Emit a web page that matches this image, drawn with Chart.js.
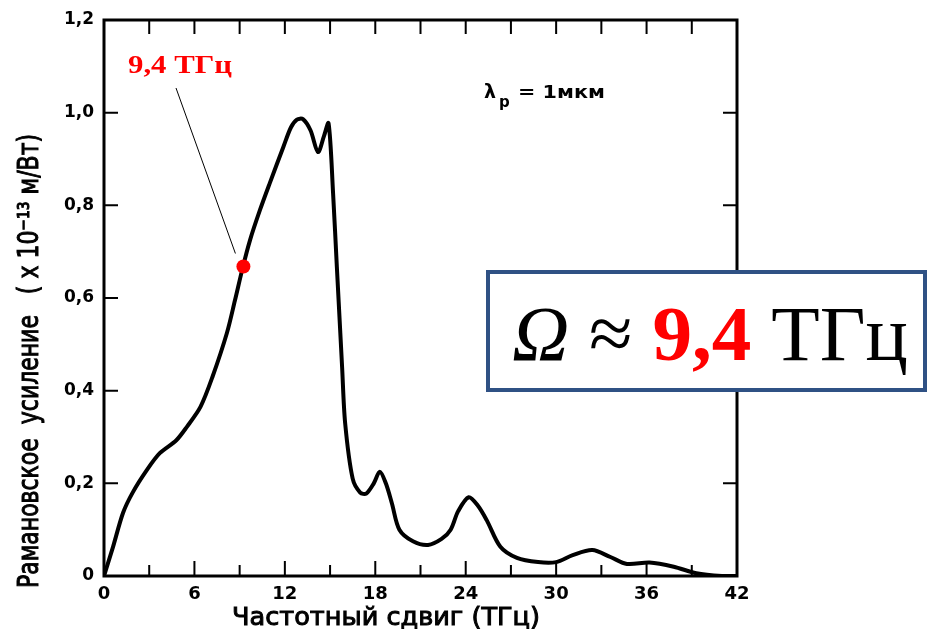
<!DOCTYPE html>
<html>
<head>
<meta charset="utf-8">
<script src="https://cdn.jsdelivr.net/npm/chart.js@4/dist/chart.umd.min.js"></script>
<style>
html, body { margin: 0; padding: 0; background: #fff; }
</style>
</head>
<body>
<canvas id="grafica" width="929" height="633"></canvas>
<script>
// частотный сдвиг, ТГц
var sdvig = [0, 0.6, 1.26, 1.9, 2.85, 3.7, 4.8, 5.5, 6.4, 7.2, 8.16, 8.69, 9.2, 9.69, 10.35, 11.0,
	11.9, 12.4, 12.8, 13.2, 13.7, 14.2, 14.6, 14.9, 15.2, 15.45, 15.8, 16.0, 16.5, 17.0, 17.4, 17.9,
	18.3, 18.7, 19.1, 19.6, 20.5, 21.5, 22.4, 23.0, 23.5, 24.2, 24.8, 25.4, 26.3, 27.4, 28.8,
	30.0, 31.1, 32.4, 33.6, 34.7, 36.2, 37.8, 39.3, 41, 42];
// рамановское усиление, x 10^-13 м/Вт
var usilenie = [0, 0.063, 0.136, 0.18, 0.229, 0.265, 0.293, 0.322, 0.365, 0.43, 0.525, 0.595, 0.665, 0.725, 0.79, 0.848,
	0.926, 0.968, 0.985, 0.986, 0.962, 0.915, 0.95, 0.977, 0.826, 0.667, 0.45, 0.33, 0.21, 0.18, 0.178, 0.2,
	0.225, 0.2, 0.157, 0.10, 0.075, 0.067, 0.08, 0.10, 0.14, 0.17, 0.152, 0.12, 0.063, 0.039, 0.03,
	0.03, 0.045, 0.056, 0.041, 0.026, 0.029, 0.02, 0.006, 0, 0];
// отмеченная точка
var puntoX = [9.25];
var puntoY = [0.668];

var xTickLabels = ['0', '6', '12', '18', '24', '30', '36', '42'];
var yTickLabels = ['0', '0,2', '0,4', '0,6', '0,8', '1,0', '1,2'];
var tituloX = 'Частотный сдвиг (ТГц)';
var tituloY = 'Рамановское  усиление   ( x 10⁻¹³ м/Вт)';
var etiqueta = '9,4 ТГц';

function fitText(ctx, text, x, y, w, grueso) {
	var m = ctx.measureText(text).width;
	ctx.save();
	ctx.translate(x, y);
	ctx.scale(w / m, 1);
	ctx.fillText(text, 0, 0);
	if (grueso) {
		ctx.lineWidth = grueso;
		ctx.strokeStyle = ctx.fillStyle;
		ctx.strokeText(text, 0, 0);
	}
	ctx.restore();
}

var marco = {
	id: 'marco',
	afterDatasetsDraw: function(chart) {
		var ctx = chart.ctx, a = chart.chartArea;
		var sx = chart.scales.x, sy = chart.scales.y;
		ctx.save();
		ctx.strokeStyle = '#000';
		ctx.lineWidth = 3;
		ctx.strokeRect(a.left, a.top, a.right - a.left, a.bottom - a.top);

		// ticks hacia adentro
		ctx.lineWidth = 2;
		ctx.beginPath();
		for (var v = 3; v < 42; v += 3) {
			var px = sx.getPixelForValue(v);
			var len = (v % 6 == 0) ? 15 : 11;
			ctx.moveTo(px, a.bottom); ctx.lineTo(px, a.bottom - len);
			ctx.moveTo(px, a.top); ctx.lineTo(px, a.top + 14);
		}
		for (var i = 1; i < yTickLabels.length - 1; i++) {
			var py = sy.getPixelForValue(i * 0.2);
			ctx.moveTo(a.left, py); ctx.lineTo(a.left + 14, py);
			ctx.moveTo(a.right, py); ctx.lineTo(a.right - 14, py);
		}
		ctx.stroke();

		// titulos
		ctx.fillStyle = '#000';
		ctx.font = '25px "DejaVu Sans"';
		ctx.textBaseline = 'alphabetic';
		ctx.textAlign = 'left';
		fitText(ctx, tituloX, 232, 625, 308, 1);

		ctx.save();
		ctx.translate(38, 588);
		ctx.rotate(-Math.PI / 2);
		ctx.font = '28px "DejaVu Sans"';
		fitText(ctx, tituloY, 0, 0, 454, 1);
		ctx.restore();

		// lambda_p
		ctx.font = 'bold 19px "DejaVu Sans"';
		ctx.fillText('λ', 484, 98);
		ctx.font = 'bold 15px "DejaVu Sans"';
		ctx.fillText('p', 499, 107);
		ctx.font = 'bold 17px "DejaVu Sans"';
		fitText(ctx, '= 1мкм', 518, 98, 87);

		// etiqueta roja y linea
		var dx = sx.getPixelForValue(puntoX[0]), dy = sy.getPixelForValue(puntoY[0]);
		ctx.strokeStyle = '#000';
		ctx.lineWidth = 1;
		ctx.beginPath();
		ctx.moveTo(176, 88);
		ctx.lineTo(dx - 8, dy - 13);
		ctx.stroke();
		ctx.fillStyle = '#ff0000';
		ctx.font = 'bold 25px "Liberation Serif"';
		fitText(ctx, etiqueta, 128, 73, 104);

		// recuadro
		ctx.fillStyle = '#fff';
		ctx.fillRect(488, 272, 437, 118);
		ctx.strokeStyle = '#2f5184';
		ctx.lineWidth = 4;
		ctx.strokeRect(488, 272, 437, 118);

		var partes = [
			['Ω', 'italic ', '#000'],
			[' ≈ ', '', '#000'],
			['9,4', 'bold ', '#ff0000'],
			[' ТГц', '', '#000']
		];
		var total = 0;
		partes.forEach(function(p) {
			ctx.font = p[1] + '100px "Liberation Serif"';
			total += ctx.measureText(p[0]).width;
		});
		var size = 100 * 396 / total;
		var x = 512;
		partes.forEach(function(p) {
			ctx.font = p[1] + size + 'px "Liberation Serif"';
			ctx.fillStyle = p[2];
			ctx.fillText(p[0], x, 360);
			x += ctx.measureText(p[0]).width;
		});
		ctx.restore();
	}
};

let ctx = document.getElementById('grafica').getContext('2d');
let chart = new Chart(ctx, {
	type: 'line',
	data: {
		datasets: [{
			data: puntoX.map(function(v, i) { return {x: v, y: puntoY[i]}; }),
			showLine: false,
			pointRadius: 7,
			pointBackgroundColor: '#ff0000',
			pointBorderWidth: 0,
			order: 0
		}, {
			data: sdvig.map(function(v, i) { return {x: v, y: usilenie[i]}; }),
			borderColor: '#000',
			borderWidth: 4,
			pointRadius: 0,
			fill: false,
			tension: 0.3,
			order: 1
		}]
	},
	options: {
		responsive: false,
		animation: false,
		layout: { padding: { top: 20, right: 192, left: 0, bottom: 0 } },
		plugins: { legend: { display: false }, tooltip: { enabled: false } },
		scales: {
			x: {
				type: 'linear', min: 0, max: 42,
				grid: { display: false },
				border: { display: false },
				afterFit: function(s) { s.height = 57; },
				ticks: {
					stepSize: 6, padding: 0, color: '#000',
					font: { family: 'DejaVu Sans', size: 18, weight: 'bold' },
					maxRotation: 0,
					callback: function(v, i) { return xTickLabels[i]; }
				}
			},
			y: {
				min: 0, max: 1.2,
				grid: { display: false },
				border: { display: false },
				afterFit: function(s) { s.width = 104; },
				ticks: {
					stepSize: 0.2, padding: 2, color: '#000',
					font: { family: 'DejaVu Sans', size: 17, weight: 'bold' },
					callback: function(v, i) { return yTickLabels[i]; }
				}
			}
		}
	},
	plugins: [marco]
});
</script>
</body>
</html>
